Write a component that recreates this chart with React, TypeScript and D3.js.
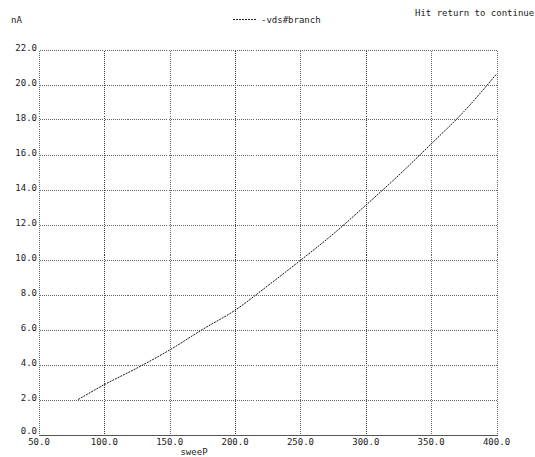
import React from "react";
import * as d3 from "d3";

const sweep = [80, 100, 125, 150, 175, 200, 225, 250, 275, 300, 325, 350, 375, 400];
const branchNA = [2.0, 2.85, 3.8, 4.83, 6.0, 7.1, 8.5, 9.95, 11.45, 13.1, 14.8, 16.6, 18.45, 20.6];
const xTicks = [50, 100, 150, 200, 250, 300, 350, 400];
const yTicks = [0, 2, 4, 6, 8, 10, 12, 14, 16, 18, 20, 22];
const seriesName = "-vds#branch";
const yUnit = "nA";
const xLabel = "sweeP";
const prompt = "Hit return to continue";

const W = 535;
const H = 457;
const FONT = "'DejaVu Sans Mono', 'Liberation Mono', monospace";

export default function App() {
  const x = d3.scaleLinear().domain([50, 400]).range([39, 496.5]);
  const y = d3.scaleLinear().domain([0, 22]).range([434.5, 49.5]);
  const px = (v: number) => Math.round(v) + 0.5;
  const pts: [number, number][] = sweep.map((s, i) => [s, branchNA[i]]);
  const line = d3
    .line<[number, number]>()
    .x((d) => x(d[0]))
    .y((d) => y(d[1]))
    .curve(d3.curveMonotoneX);
  const grid = "#666";
  const txt = "#1a1a1a";
  return (
    <svg
      width={W}
      height={H}
      style={{ position: "absolute", left: 0, top: 0, background: "#fff" }}
      fontFamily={FONT}
      fontSize={9}
    >
      <rect x={0} y={0} width={W} height={H} fill="#fff" />
      {/* vertical grid lines */}
      {xTicks.map((t) => (
        <line
          key={"vx" + t}
          x1={px(x(t))}
          x2={px(x(t))}
          y1={px(y(22))}
          y2={px(y(0))}
          stroke={t === 100 || t === 200 || t === 300 ? "#333" : grid}
          strokeWidth={1}
          strokeDasharray="1,1"
          shapeRendering="crispEdges"
        />
      ))}
      {/* horizontal grid lines */}
      {yTicks
        .filter((t) => t > 0)
        .map((t) => (
          <line
            key={"hy" + t}
            x1={px(x(50))}
            x2={px(x(400))}
            y1={px(y(t))}
            y2={px(y(t))}
            stroke={grid}
            strokeWidth={1}
            strokeDasharray="1,1"
            shapeRendering="crispEdges"
          />
        ))}
      {/* bottom axis */}
      <line
        x1={px(x(50))}
        x2={px(x(400))}
        y1={px(y(0))}
        y2={px(y(0))}
        stroke="#555"
        strokeWidth={1}
        shapeRendering="crispEdges"
      />
      {/* y tick labels */}
      {yTicks.map((t) => (
        <text key={"yl" + t} x={37} y={t === 0 ? y(t) - 0.5 : y(t) + 1.5} textAnchor="end" fill={txt}>
          {t.toFixed(1)}
        </text>
      ))}
      {/* x tick labels */}
      {xTicks.map((t) => (
        <text key={"xl" + t} x={x(t)} y={444.5} textAnchor="middle" fill={txt}>
          {t.toFixed(1)}
        </text>
      ))}
      {/* data line */}
      <path d={line(pts) || ""} fill="none" stroke="#111" strokeWidth={1} strokeDasharray="2,1" />
      {/* labels */}
      <text x={11} y={23} fill={txt}>
        {yUnit}
      </text>
      <text x={194} y={455} textAnchor="middle" fill={txt}>
        {xLabel}
      </text>
      <line
        x1={233}
        x2={256}
        y1={19.5}
        y2={19.5}
        stroke="#222"
        strokeWidth={1}
        strokeDasharray="2,1"
        shapeRendering="crispEdges"
      />
      <text x={261} y={23} fill={txt}>
        {seriesName}
      </text>
      <text x={415} y={16} fill={txt}>
        {prompt}
      </text>
    </svg>
  );
}
